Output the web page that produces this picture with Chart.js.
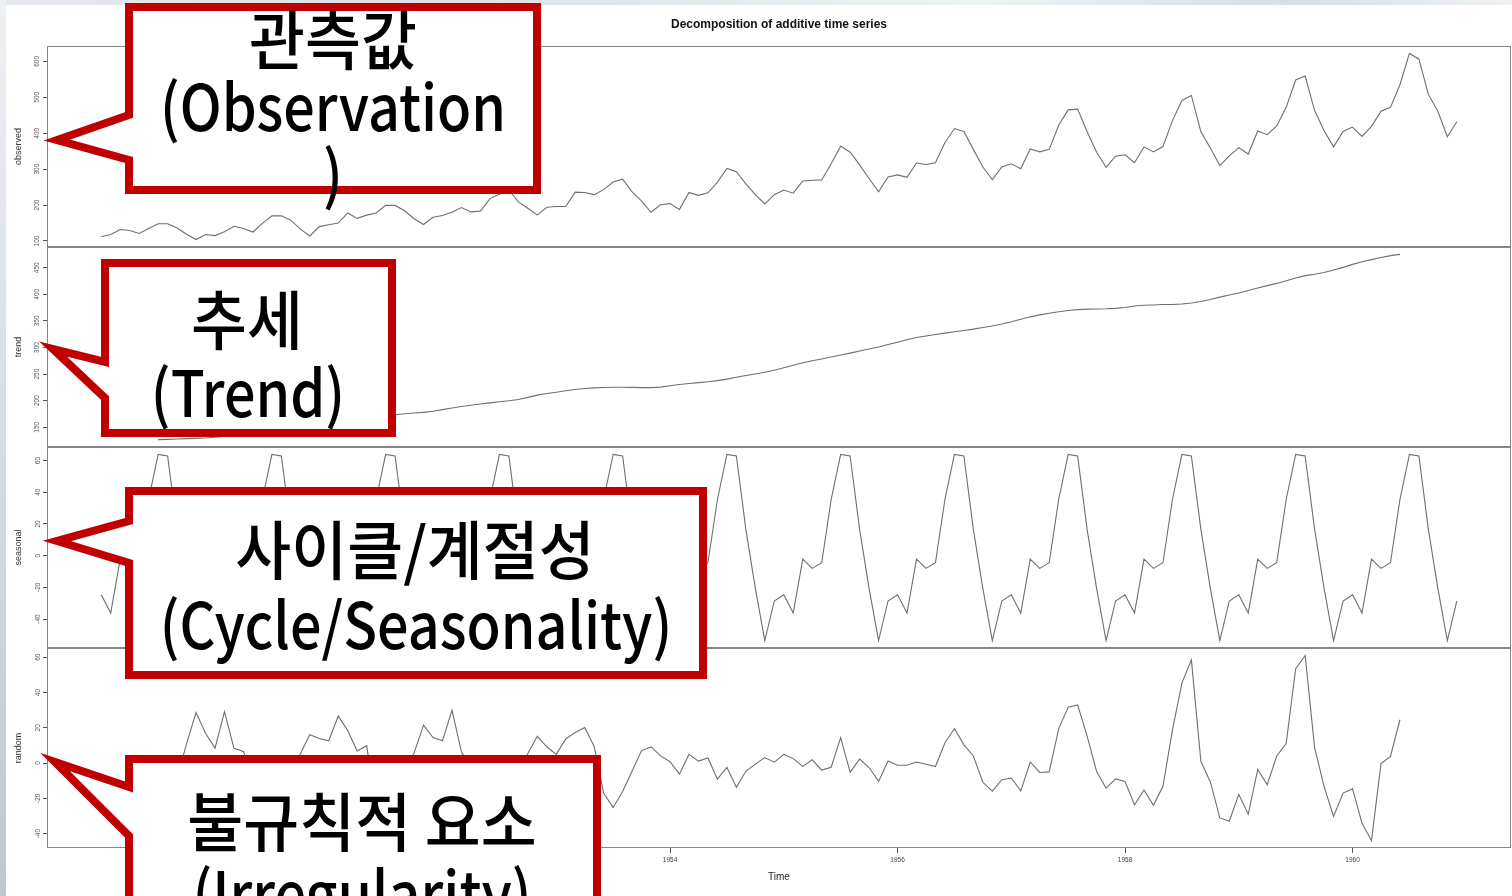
<!DOCTYPE html>
<html>
<head>
<meta charset="utf-8">
<script src="https://cdn.jsdelivr.net/npm/chart.js@4.4.1/dist/chart.umd.min.js"></script>
<style>
html,body{margin:0;padding:0;background:#fff;}
#stage{position:relative;width:1512px;height:896px;overflow:hidden;background:#fff;}
#stage canvas{position:absolute;left:0;}
.topstrip{position:absolute;left:0;top:0;width:1512px;height:5px;background:linear-gradient(90deg,#e4e8ec 0%,#dfe4e8 35%,#edf2f5 65%,#d8dee3 85%,#eef2f5 100%);}
.leftstrip{position:absolute;left:0;top:0;width:6px;height:896px;background:linear-gradient(180deg,#eef1f4 0%,#d6dce2 50%,#bfc7d0 100%);}
#callouts{position:absolute;left:0;top:0;}
.ct{position:absolute;font-family:"Noto Sans CJK KR","Noto Sans",sans-serif;font-weight:500;color:#000;font-size:64px;line-height:70px;white-space:nowrap;}
.ko{transform:translate(-50%,-50%) scaleX(0.95);}
.en{transform:translate(-50%,-50%) scaleX(0.87);}
</style>
</head>
<body>
<div id="stage">
  <div class="topstrip"></div>
  <div class="leftstrip"></div>
  <canvas id="c0"></canvas>
  <canvas id="c1"></canvas>
  <canvas id="c2"></canvas>
  <canvas id="c3"></canvas>
  <svg id="callouts" width="1512" height="896">
    <g fill="#fff" stroke="#c00000" stroke-width="8" stroke-linejoin="miter" stroke-miterlimit="40">
      <path d="M129,7 L537,7 L537,190 L129,190 L129,160 L57,140 L129,115 Z"/>
      <path d="M105,263 L392,263 L392,433 L105,433 L105,398 L53,349 L105,362 Z"/>
      <path d="M129,491 L703,491 L703,675 L129,675 L129,563 L57,541 L129,521 Z"/>
      <path d="M129,759 L597,759 L597,940 L129,940 L129,836 L55,762 L129,787 Z"/>
    </g>
  </svg>
  <div class="ct ko" style="left:333px;top:36px;">관측값</div>
  <div class="ct en" style="left:333px;top:103px;">(Observation</div>
  <div class="ct en" style="left:333px;top:170px;">)</div>
  <div class="ct ko" style="left:247px;top:316px;">추세</div>
  <div class="ct en" style="left:248px;top:389px;">(Trend)</div>
  <div class="ct ko" style="left:415px;top:546px;">사이클/계절성</div>
  <div class="ct en" style="left:416px;top:621px;">(Cycle/Seasonality)</div>
  <div class="ct ko" style="left:362px;top:818px;">불규칙적 요소</div>
  <div class="ct en" style="left:362px;top:890px;">(Irregularity)</div>
</div>
<script>
// ---- data ----
const years = [1949,1950,1951,1952,1953,1954,1955,1956,1957,1958,1959,1960];
const monthsPerYear = 12;

const observed = [
  112,118,132,129,121,135,148,148,136,119,104,118,
  115,126,141,135,125,149,170,170,158,133,114,140,
  145,150,178,163,172,178,199,199,184,162,146,166,
  171,180,193,181,183,218,230,242,209,191,172,194,
  196,196,236,235,229,243,264,272,237,211,180,201,
  204,188,235,227,234,264,302,293,259,229,203,229,
  242,233,267,269,270,315,364,347,312,274,237,278,
  284,277,317,313,318,374,413,405,355,306,271,306,
  315,301,356,348,355,422,465,467,404,347,305,336,
  340,318,362,348,363,435,491,505,404,359,310,337,
  360,342,406,396,420,472,548,559,463,407,362,405,
  417,391,419,461,472,535,622,606,508,461,390,432
];

const trend = [
  null,null,null,null,null,null,126.79,127.25,127.96,128.58,129.00,129.75,
  131.25,133.08,134.92,136.42,137.42,138.75,140.92,143.17,145.71,148.42,151.54,154.71,
  157.13,159.54,161.83,164.13,166.67,169.08,171.25,173.58,175.46,176.83,178.04,180.17,
  183.13,186.21,189.04,191.29,193.58,195.83,198.04,199.75,202.21,206.25,210.42,213.38,
  215.83,218.50,220.92,222.92,224.08,224.71,225.33,225.33,224.96,224.58,224.46,225.54,
  228.00,230.46,232.25,233.92,235.63,237.75,240.50,243.96,247.17,250.25,253.50,257.13,
  261.83,266.67,271.13,275.21,278.50,281.96,285.75,289.33,293.25,297.17,301.00,305.46,
  309.96,314.42,318.63,321.75,324.50,327.08,329.54,331.83,334.46,337.54,340.54,344.08,
  348.25,353.00,357.63,361.38,364.50,367.17,369.46,371.21,372.17,372.42,372.75,373.63,
  375.25,377.92,379.50,380.00,380.71,380.96,381.83,383.67,386.50,390.33,394.71,398.63,
  402.54,407.17,411.88,416.33,420.50,425.50,430.71,435.13,437.71,440.96,445.83,450.63,
  456.33,461.38,465.21,469.33,472.75,475.04,null,null,null,null,null,null
];

const seasonal = [
  -24.75,-36.19,-2.24,-8.04,-4.51,35.40,63.83,62.82,16.52,-20.64,-53.59,-28.62,
  -24.75,-36.19,-2.24,-8.04,-4.51,35.40,63.83,62.82,16.52,-20.64,-53.59,-28.62,
  -24.75,-36.19,-2.24,-8.04,-4.51,35.40,63.83,62.82,16.52,-20.64,-53.59,-28.62,
  -24.75,-36.19,-2.24,-8.04,-4.51,35.40,63.83,62.82,16.52,-20.64,-53.59,-28.62,
  -24.75,-36.19,-2.24,-8.04,-4.51,35.40,63.83,62.82,16.52,-20.64,-53.59,-28.62,
  -24.75,-36.19,-2.24,-8.04,-4.51,35.40,63.83,62.82,16.52,-20.64,-53.59,-28.62,
  -24.75,-36.19,-2.24,-8.04,-4.51,35.40,63.83,62.82,16.52,-20.64,-53.59,-28.62,
  -24.75,-36.19,-2.24,-8.04,-4.51,35.40,63.83,62.82,16.52,-20.64,-53.59,-28.62,
  -24.75,-36.19,-2.24,-8.04,-4.51,35.40,63.83,62.82,16.52,-20.64,-53.59,-28.62,
  -24.75,-36.19,-2.24,-8.04,-4.51,35.40,63.83,62.82,16.52,-20.64,-53.59,-28.62,
  -24.75,-36.19,-2.24,-8.04,-4.51,35.40,63.83,62.82,16.52,-20.64,-53.59,-28.62,
  -24.75,-36.19,-2.24,-8.04,-4.51,35.40,63.83,62.82,16.52,-20.64,-53.59,-28.62
];

const random = [
  null,null,null,null,null,null,-42.62,-42.07,-8.48,11.06,28.59,16.87,
  8.50,29.11,8.32,6.62,-7.91,-25.15,-34.75,-35.99,-4.23,5.22,16.05,13.91,
  12.62,26.65,18.41,6.91,9.84,-26.48,-36.08,-37.40,-7.98,5.81,21.55,14.45,
  12.62,29.98,6.20,-2.25,-6.07,-13.23,-31.87,-20.57,-9.73,5.39,15.17,9.24,
  4.92,13.69,17.32,20.12,9.43,-17.11,-25.16,-16.15,-4.48,7.06,9.13,4.08,
  0.75,-6.27,4.99,1.12,2.88,-9.15,-2.33,-13.78,-4.69,-0.61,3.09,0.49,
  4.92,2.52,-1.89,1.83,-3.99,-2.36,14.42,-5.15,2.23,-2.53,-10.41,1.16,
  -1.21,-1.23,0.61,-0.71,-1.99,11.52,19.63,10.35,4.02,-10.90,-15.95,-9.46,
  -8.50,-15.81,0.61,-5.34,-4.99,19.43,31.71,32.97,15.31,-4.78,-14.16,-9.01,
  -10.50,-23.73,-15.26,-23.96,-13.20,18.64,45.34,58.51,0.98,-10.69,-31.12,-33.01,
  -17.79,-28.98,-3.64,-12.29,4.01,11.10,53.46,61.05,8.77,-13.32,-30.24,-17.01,
  -14.58,-34.19,-43.97,-0.29,3.76,24.56,null,null,null,null,null,null
];

const xTickYears = [1950,1952,1954,1956,1958,1960];
const observedTicks = [100,200,300,400,500,600];
const trendTicks = [150,200,250,300,350,400,450];
const seasonalTicks = [-40,-20,0,20,40,60];
const randomTicks = [-40,-20,0,20,40,60];

// ---- chart building ----
const time = [];
years.forEach(y => { for (let m = 0; m < monthsPerYear; m++) time.push(y + m / monthsPerYear); });

const FONT = '"Liberation Sans", Arial, sans-serif';
const X_MIN = 1948.523, X_MAX = 1961.393;

const panelBox = {
  id: 'panelBox',
  afterDatasetsDraw(chart) {
    const a = chart.chartArea, ctx = chart.ctx;
    ctx.save();
    ctx.strokeStyle = '#858585';
    ctx.lineWidth = 1;
    ctx.strokeRect(a.left + 0.5, a.top + 0.5, a.right - a.left - 1, a.bottom - a.top - 1);
    ctx.restore();
  }
};

const panels = [
  { id: 'c0', label: 'observed', values: observed, ticks: observedTicks, min: 83.28, max: 642.72, top: 0, height: 247, title: true },
  { id: 'c1', label: 'trend', values: trend, ticks: trendTicks, min: 112.86, max: 488.97, top: 247, height: 200 },
  { id: 'c2', label: 'seasonal', values: seasonal, ticks: seasonalTicks, min: -58.29, max: 68.53, top: 447, height: 201 },
  { id: 'c3', label: 'random', values: random, ticks: randomTicks, min: -48.17, max: 65.25, top: 648, height: 248, bottom: true }
];

panels.forEach(p => {
  const cv = document.getElementById(p.id);
  cv.width = 1512; cv.height = p.height;
  cv.style.width = '1512px'; cv.style.height = p.height + 'px';
  cv.style.top = p.top + 'px';
  new Chart(cv, {
    type: 'line',
    data: {
      datasets: [{
        data: time.map((t, i) => ({ x: t, y: p.values[i] })),
        borderColor: '#6f6f6f',
        borderWidth: 1.1,
        pointRadius: 0,
        tension: 0,
        fill: false,
        spanGaps: false
      }]
    },
    options: {
      responsive: false,
      animation: false,
      devicePixelRatio: 1,
      layout: { padding: { left: 0, right: 1, top: 0, bottom: 0 } },
      plugins: {
        legend: { display: false },
        tooltip: { enabled: false },
        title: p.title ? {
          display: true,
          text: 'Decomposition of additive time series',
          fullSize: false,
          color: '#111',
          font: { family: FONT, size: 12, weight: 'bold' },
          padding: { top: 17, bottom: 14.6 }
        } : { display: false }
      },
      scales: {
        x: {
          type: 'linear',
          min: X_MIN, max: X_MAX,
          display: !!p.bottom,
          afterBuildTicks: s => { s.ticks = xTickYears.map(v => ({ value: v })); },
          afterFit: s => {
            if (p.bottom) { s.height = 48; } else { s.height = 0; }
            s.paddingLeft = 0; s.paddingRight = 0;
          },
          grid: { drawOnChartArea: false, drawTicks: true, tickLength: 5, color: '#555' },
          border: { display: false },
          ticks: {
            padding: 3, autoSkip: false, maxRotation: 0, minRotation: 0,
            color: '#444', font: { family: FONT, size: 6.5 },
            callback: v => String(v)
          },
          title: {
            display: true, text: 'Time', color: '#222',
            font: { family: FONT, size: 10 },
            padding: { top: 0, bottom: 13 }
          }
        },
        y: {
          type: 'linear',
          min: p.min, max: p.max,
          afterBuildTicks: s => { s.ticks = p.ticks.map(v => ({ value: v })); },
          afterFit: s => { s.width = 47; s.paddingTop = 0; s.paddingBottom = 0; },
          grid: { drawOnChartArea: false, drawTicks: true, tickLength: 4, color: '#555' },
          border: { display: false },
          ticks: {
            padding: 0, autoSkip: false, minRotation: 90, maxRotation: 90, crossAlign: 'center',
            color: '#555', font: { family: FONT, size: 6.5 },
            callback: v => String(v)
          },
          title: {
            display: true, text: p.label, color: '#333',
            font: { family: FONT, size: 9 },
            padding: { top: 13, bottom: 0 }
          }
        }
      }
    },
    plugins: [panelBox]
  });
});
</script>
</body>
</html>
